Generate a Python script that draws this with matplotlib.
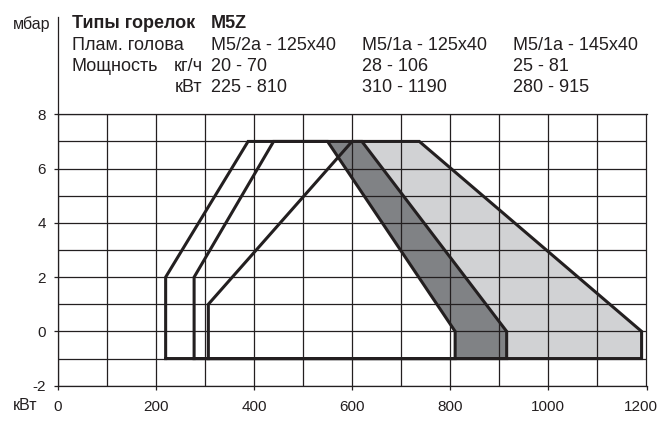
import matplotlib
matplotlib.use("Agg")
import matplotlib.pyplot as plt
import matplotlib.transforms as mtransforms

plt.rcParams["font.family"] = ["Liberation Sans", "DejaVu Sans"]
plt.rcParams["axes.unicode_minus"] = False

# working fields, kW vs mbar (outline vertices)
m52a_kw = [220, 220, 388, 550, 810, 810]
m52a_mbar = [-1, 2, 7, 7, 0, -1]
m51a_145_kw = [278, 278, 440, 620, 915, 915]
m51a_145_mbar = [-1, 2, 7, 7, 0, -1]
m51a_125_kw = [307, 307, 600, 737, 1190, 1190]
m51a_125_mbar = [-1, 1, 7, 7, 0, -1]

xticks = [0, 200, 400, 600, 800, 1000, 1200]
yticks = [-2, 0, 2, 4, 6, 8]

heads = ["M5/2a - 125x40", "M5/1a - 125x40", "M5/1a - 145x40"]
kgh = ["20 - 70", "28 - 106", "25 - 81"]
kwt = ["225 - 810", "310 - 1190", "280 - 915"]

ink = "#231f20"
W, H = 659, 424

fig = plt.figure(figsize=(6.59, 4.24), dpi=100)
ax = fig.add_axes([57.7/W, 1-385.7/H, (646.5-57.7)/W, (385.7-114.3)/H])
ax.set_xlim(0, 1200)
ax.set_ylim(-2, 8)

# fills: light, then dark, then white on top
ax.fill(m51a_125_kw, m51a_125_mbar, color="#d1d2d4", lw=0, zorder=1)
ax.fill(m51a_145_kw, m51a_145_mbar, color="#808285", lw=0, zorder=1.1)
ax.fill(m52a_kw, m52a_mbar, color="white", lw=0, zorder=1.2)

for xs, ys in [(m52a_kw, m52a_mbar), (m51a_145_kw, m51a_145_mbar), (m51a_125_kw, m51a_125_mbar)]:
    ax.plot(xs + xs[:1], ys + ys[:1], color=ink, lw=2.2, solid_joinstyle="miter", zorder=3)

ax.set_xticks(xticks)
ax.set_xticks(range(0, 1201, 100), minor=True)
ax.set_yticks(yticks)
ax.set_yticks(range(-2, 9), minor=True)
ax.grid(which="both", color=ink, lw=0.9)
ax.set_axisbelow("line")
ax.tick_params(which="major", length=3, width=0.9, color=ink, labelsize=11, labelcolor=ink)
ax.tick_params(axis="x", pad=7.5)
ax.tick_params(axis="y", pad=5.5)
ax.tick_params(which="minor", length=0)
for s in ax.spines.values():
    s.set_color(ink)
    s.set_linewidth(0.9)

# last x label sits a little left so it stays on the page
lab = ax.get_xticklabels()[-1]
lab.set_transform(lab.get_transform() + mtransforms.ScaledTranslation(-6/100, 0, fig.dpi_scale_trans))

# left axis goes on up past the grid
ax.plot([0, 0], [8, 11.6], color=ink, lw=0.9, clip_on=False)

def fx(px):
    return px / W

def fy(py):
    return 1 - py / H

fig.text(fx(50), fy(24), "мбар", ha="right", va="center", fontsize=11.5, color=ink)
fig.text(fx(37), fy(406), "кВт", ha="right", va="center", fontsize=11.5, color=ink)

fs = 13
fig.text(fx(71.7), fy(24), "Типы горелок", ha="left", va="center", fontsize=fs, fontweight="bold", color=ink)
fig.text(fx(210.7), fy(24), "M5Z", ha="left", va="center", fontsize=fs, fontweight="bold", color=ink)
fig.text(fx(71.7), fy(46), "Плам. голова", ha="left", va="center", fontsize=fs, color=ink)
fig.text(fx(71.7), fy(66.7), "Мощность", ha="left", va="center", fontsize=fs, color=ink)
fig.text(fx(202.7), fy(66.7), "кг/ч", ha="right", va="center", fontsize=fs, color=ink)
fig.text(fx(202.7), fy(87.3), "кВт", ha="right", va="center", fontsize=fs, color=ink)
for col, h, a, b in zip([210.7, 361.7, 512.7], heads, kgh, kwt):
    fig.text(fx(col), fy(46), h, ha="left", va="center", fontsize=fs, color=ink)
    fig.text(fx(col), fy(66.7), a, ha="left", va="center", fontsize=fs, color=ink)
    fig.text(fx(col), fy(87.3), b, ha="left", va="center", fontsize=fs, color=ink)

fig.savefig("out.png", dpi=100)
